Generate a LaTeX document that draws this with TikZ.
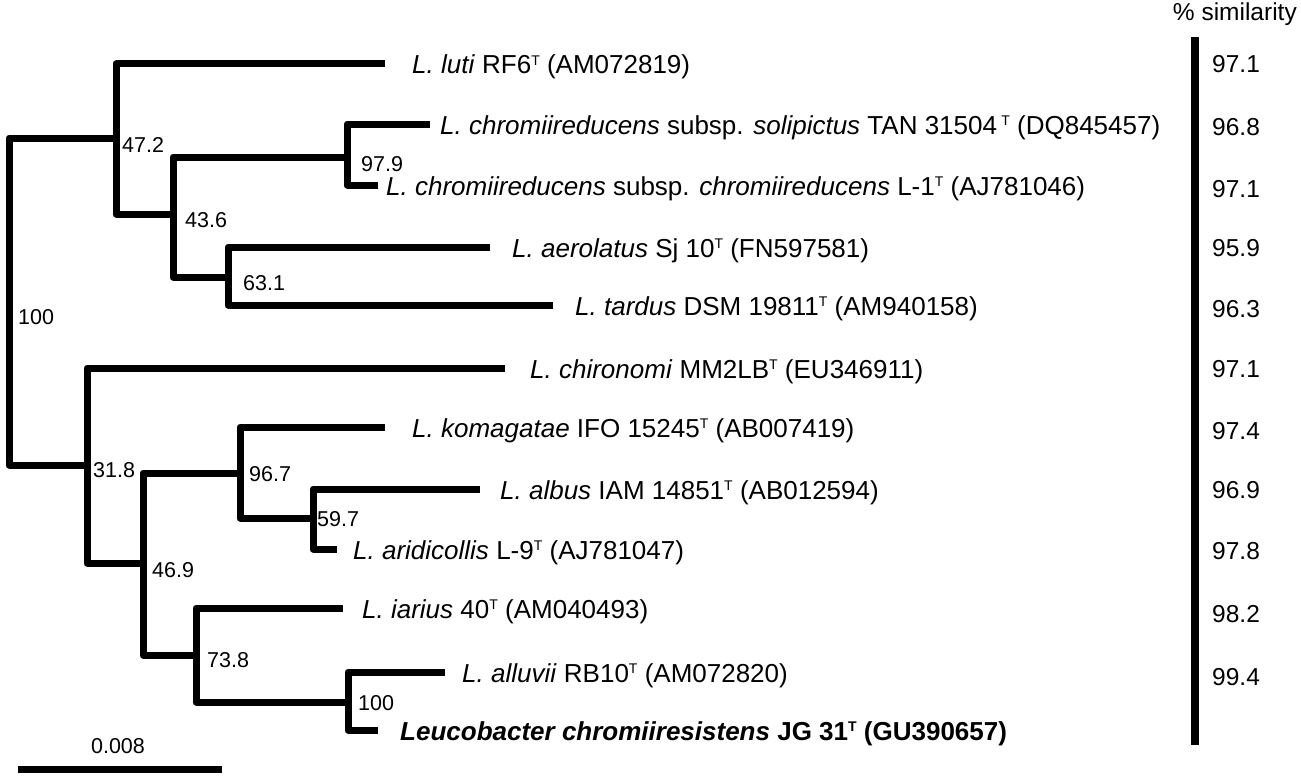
\documentclass[tikz,border=0pt]{standalone}
\usepackage{fontspec}
\setmainfont{Liberation Sans}
\newcommand\supT{\raisebox{8.6pt}{\fontsize{14}{14}\selectfont T}}
\begin{document}
\begin{tikzpicture}[x=1pt,y=-1pt,
  br/.style={line width=7pt, line join=round, line cap=butt},
  lab/.style={anchor=base west, inner sep=0pt, font=\fontsize{26}{30}\selectfont},
  bs/.style={anchor=west, inner sep=0pt, font=\fontsize{21.5}{25}\selectfont},
  sim/.style={anchor=west, inner sep=0pt, font=\fontsize{24.5}{29}\selectfont}]
\useasboundingbox (0,0) rectangle (1301,776);
% internal nodes
\coordinate (root) at (9,301);
\coordinate (A) at (116,138);
\coordinate (B) at (87,465);
\coordinate (C) at (173,214);
\coordinate (D) at (347,157);
\coordinate (E) at (228,277);
\coordinate (F) at (143,563);
\coordinate (G) at (240,473);
\coordinate (H) at (313,518);
\coordinate (I) at (196,655);
\coordinate (J) at (348,702);
% leaf ends
\coordinate (l1) at (385,64);
\coordinate (l2) at (430,124);
\coordinate (l3) at (378,185);
\coordinate (l4) at (490,247);
\coordinate (l5) at (553,305);
\coordinate (l6) at (505,368);
\coordinate (l7) at (385,427);
\coordinate (l8) at (480,489);
\coordinate (l9) at (337,549);
\coordinate (l10) at (343,608);
\coordinate (l11) at (445,672);
\coordinate (l12) at (378,730);
% branches
\draw[br] (root) |- (A);
\draw[br] (root) |- (B);
\draw[br] (A) |- (l1);
\draw[br] (A) |- (C);
\draw[br] (C) |- (D);
\draw[br] (C) |- (E);
\draw[br] (D) |- (l2);
\draw[br] (D) |- (l3);
\draw[br] (E) |- (l4);
\draw[br] (E) |- (l5);
\draw[br] (B) |- (l6);
\draw[br] (B) |- (F);
\draw[br] (F) |- (G);
\draw[br] (F) |- (I);
\draw[br] (G) |- (l7);
\draw[br] (G) |- (H);
\draw[br] (H) |- (l8);
\draw[br] (H) |- (l9);
\draw[br] (I) |- (l10);
\draw[br] (I) |- (J);
\draw[br] (J) |- (l11);
\draw[br] (J) |- (l12);
% bootstrap values
\node[bs] (bA) at (122,145) {47.2};
\node[bs] (bC) at (185,220) {43.6};
\node[bs] (bE) at (243,283) {63.1};
\node[bs] (bD) at (361,164) {97.9};
\node[bs] (broot) at (18,317) {100};
\node[bs] (bB) at (93,470) {31.8};
\node[bs] (bF) at (152,570) {46.9};
\node[bs] (bG) at (249,474) {96.7};
\node[bs] (bH) at (317,519) {59.7};
\node[bs] (bI) at (207,660) {73.8};
\node[bs] (bJ) at (358,703) {100};
% leaf labels
\node[lab] (t1) at (412,74) {\textit{L. luti} RF6\supT{} (AM072819)};
\node[lab] (t2) at (440,134) {\textit{L. chromiireducens} subsp. \textit{solipictus} TAN 31504\,\supT{} (DQ845457)};
\node[lab] (t3) at (386,195) {\textit{L. chromiireducens} subsp. \textit{chromiireducens} L-1\supT{} (AJ781046)};
\node[lab] (t4) at (512,257) {\textit{L. aerolatus} Sj 10\supT{} (FN597581)};
\node[lab] (t5) at (575,315) {\textit{L. tardus} DSM 19811\supT{} (AM940158)};
\node[lab] (t6) at (530,378) {\textit{L. chironomi} MM2LB\supT{} (EU346911)};
\node[lab] (t7) at (412,437) {\textit{L. komagatae} IFO 15245\supT{} (AB007419)};
\node[lab] (t8) at (500,499) {\textit{L. albus} IAM 14851\supT{} (AB012594)};
\node[lab] (t9) at (353,559) {\textit{L. aridicollis} L-9\supT{} (AJ781047)};
\node[lab] (t10) at (362,618) {\textit{L. iarius} 40\supT{} (AM040493)};
\node[lab] (t11) at (462,682) {\textit{L. alluvii} RB10\supT{} (AM072820)};
\node[lab] (t12) at (400,740) {\textbf{\textit{Leucobacter chromiiresistens} JG 31\supT{} (GU390657)}};
% similarity column
\node[anchor=base east, inner sep=0pt, font=\fontsize{24.5}{29}\selectfont] (head) at (1297,21) {\% similarity};
\coordinate (s1) at (1195,37);
\coordinate (s2) at (1195,745);
\draw[line width=8pt] (s1) -- (s2);
\node[sim] (v1) at (1212,64) {97.1};
\node[sim] (v2) at (1212,127) {96.8};
\node[sim] (v3) at (1212,189) {97.1};
\node[sim] (v4) at (1212,248) {95.9};
\node[sim] (v5) at (1212,309) {96.3};
\node[sim] (v6) at (1212,369) {97.1};
\node[sim] (v7) at (1212,431) {97.4};
\node[sim] (v8) at (1212,490) {96.9};
\node[sim] (v9) at (1212,551) {97.8};
\node[sim] (v10) at (1212,614) {98.2};
\node[sim] (v11) at (1212,677) {99.4};
% scale bar
\coordinate (sb1) at (18,769);
\coordinate (sb2) at (222,769);
\draw[line width=7pt] (sb1) -- (sb2);
\node[inner sep=0pt, font=\fontsize{21.5}{25}\selectfont] (sbl) at (118,746) {0.008};
\end{tikzpicture}
\end{document}
